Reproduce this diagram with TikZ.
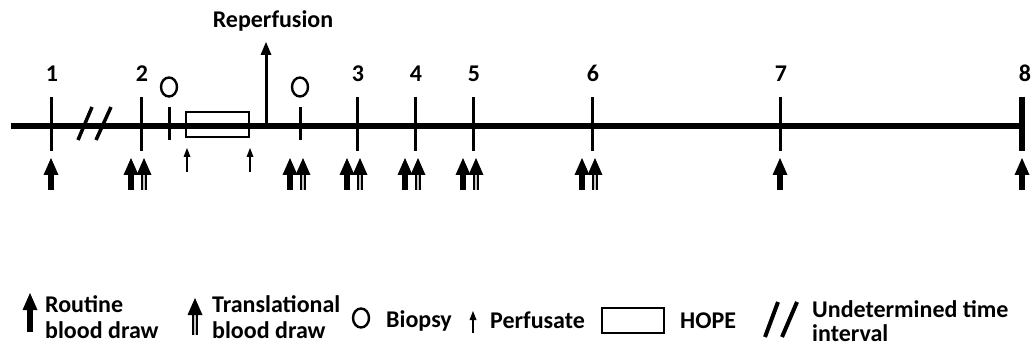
\documentclass[tikz,border=0pt]{standalone}
\usepackage{fontspec}
\setmainfont{Carlito}
\usetikzlibrary{shapes.geometric}
\newcommand\RArr[3]{% x, tip y, bottom y
  \fill (#1-7.5,#2+17) -- (#1,#2) -- (#1+7.5,#2+17) -- cycle;
  \fill (#1-3,#2+16) rectangle (#1+3,#3);}
\newcommand\TArr[3]{%
  \fill[gray!45] (#1-2.5,#2+16) rectangle (#1+2.5,#3);
  \draw[line width=1.1pt] (#1-2,#2+16) -- (#1-2,#3) (#1+2,#2+16) -- (#1+2,#3);
  \fill (#1-7.5,#2+17) -- (#1,#2) -- (#1+7.5,#2+17) -- cycle;}
\newcommand\PArr[3]{%
  \draw[line width=1.4pt] (#1,#2+6) -- (#1,#3);
  \fill (#1-3.5,#2+9) -- (#1,#2) -- (#1+3.5,#2+9) -- cycle;}
\begin{document}
\begin{tikzpicture}[x=1pt,y=-1pt,
  lbl/.style={font=\fontsize{24}{26}\selectfont\bfseries, inner sep=0pt, anchor=base},
  lgl/.style={lbl, anchor=base west},
  tickline/.style={line width=3pt},
  biop/.style={draw, line width=2.4pt, ellipse, minimum width=16pt, minimum height=19pt, inner sep=0pt},
  slash/.style={line width=3.5pt},
  hope/.style={draw, line width=2.2pt, inner sep=0pt}]
\useasboundingbox (0,0) rectangle (1032,347);
% main timeline
\coordinate (start) at (11,126);
\coordinate (end) at (1022,126);
\draw[line width=6.5pt] (start) -- (end);
% numbered ticks
\foreach \n/\x in {1/51,2/141,3/357,4/415,5/473,6/592,7/780}{
  \draw[tickline] (\x,97) -- (\x,151);
  \node[lbl] (n\n) at (\x+1,82) {\n};
}
\draw[line width=6pt] (1022,97) -- (1022,151);
\node[lbl] (n8) at (1025,82) {8};
% biopsy ticks and circles
\foreach \i/\x in {1/169,2/300}{
  \draw[tickline] (\x,107) -- (\x,140);
  \node[biop] (b\i) at (\x,87) {};
}
% undetermined interval
\draw[slash] (78,140) -- (92,107);
\draw[slash] (96,140) -- (111,107);
% HOPE box
\node[hope, minimum width=63pt, minimum height=25pt] (hopebox) at (217.5,124.5) {};
% reperfusion
\coordinate (rb) at (266,126);
\coordinate (rt) at (266,55);
\draw[line width=3pt] (rb) -- (rt);
\fill (260.5,55) -- (266,42) -- (271.5,55) -- cycle;
\node[lbl] (reperf) at (273,28) {Reperfusion};
% perfusate arrows
\PArr{187}{148}{172}
\PArr{250}{148}{172}
% blood draws
\RArr{51}{158}{190}
\foreach \x in {141,300,357,415,473,592}{
  \RArr{\x-10}{158}{190}
  \TArr{\x+3}{158}{190}
}
\RArr{780}{158}{190}
\RArr{1022}{158}{190}
% legend
\RArr{30}{293}{332}
\node[lgl] (lr1) at (45,312) {Routine};
\node[lgl] (lr2) at (45,338) {blood draw};
\TArr{195}{298}{335}
\node[lgl] (lt1) at (212,312) {Translational};
\node[lgl] (lt2) at (212,338) {blood draw};
\node[biop] (lb) at (361,318) {};
\node[lgl] (lbt) at (386,327) {Biopsy};
\PArr{473}{311}{333}
\node[lgl] (lpt) at (490,328) {Perfusate};
\node[hope, minimum width=62pt, minimum height=25pt] (lh) at (633,320.5) {};
\node[lgl] (lht) at (680,328) {HOPE};
\draw[line width=4pt] (765,337) -- (778,302);
\draw[line width=4pt] (782,337) -- (797,302);
\node[lgl] (lu1) at (812,317) {Undetermined time};
\node[lgl] (lu2) at (812,341) {interval};
\end{tikzpicture}
\end{document}
